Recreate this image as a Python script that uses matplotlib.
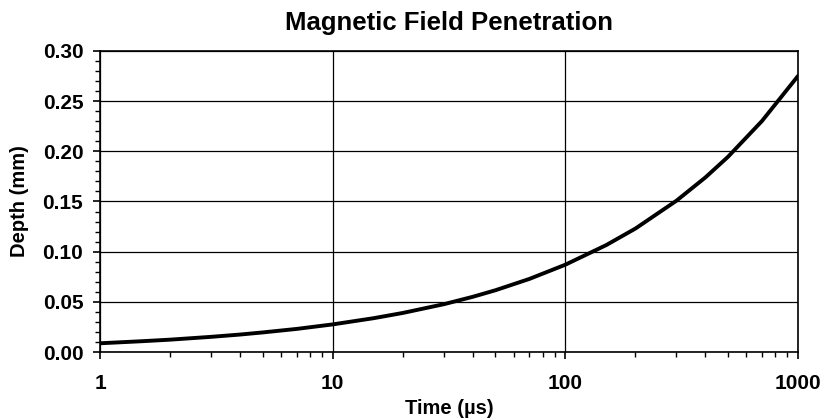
import matplotlib
matplotlib.use("Agg")
import matplotlib.pyplot as plt
from matplotlib.ticker import MultipleLocator, LogLocator, NullFormatter, FixedLocator, FixedFormatter

time_us = [1, 1.5, 2, 3, 4, 5, 7, 10, 15, 20, 30, 40, 50, 70, 100, 150, 200,
           300, 400, 500, 700, 1000]
depth_mm = [0.0087, 0.0107, 0.0123, 0.0151, 0.0174, 0.0195, 0.0230, 0.0275,
            0.0337, 0.0389, 0.0476, 0.0550, 0.0615, 0.0728, 0.0870, 0.1066,
            0.1230, 0.1507, 0.1740, 0.1945, 0.2302, 0.2751]
x_ticks = [1, 10, 100, 1000]
x_labels = ["1", "10", "100", "1000"]
y_ticks = [0.00, 0.05, 0.10, 0.15, 0.20, 0.25, 0.30]

plt.rcParams['font.family'] = ['Liberation Sans', 'DejaVu Sans']

fig = plt.figure(figsize=(8.25, 4.19), dpi=100)
ax = fig.add_axes([100/825, 1-352/419, (798-100)/825, (352-51)/419])

ax.plot(time_us, depth_mm, color='black', lw=2.8, solid_capstyle='round',
        solid_joinstyle='round')
ax.set_xscale('log')
ax.set_xlim(1, 1000)
ax.set_ylim(0, 0.30)

ax.xaxis.set_major_locator(FixedLocator(x_ticks))
ax.xaxis.set_major_formatter(FixedFormatter(x_labels))
ax.xaxis.set_minor_locator(LogLocator(base=10, subs=range(2, 10)))
ax.xaxis.set_minor_formatter(NullFormatter())
ax.set_yticks(y_ticks)
ax.set_yticklabels([f"{v:.2f}" for v in y_ticks])
ax.yaxis.set_minor_locator(MultipleLocator(0.01))

ax.grid(True, which='major', color='black', lw=0.9)
for s in ax.spines.values():
    s.set_linewidth(1.2)
ax.tick_params(which='major', direction='out', length=5, width=1.2, labelsize=15)
ax.tick_params(axis='y', which='major', pad=7)
ax.tick_params(axis='x', which='major', pad=11)
ax.tick_params(which='minor', direction='out', length=3.5, width=1)
for lab in ax.get_xticklabels() + ax.get_yticklabels():
    lab.set_fontweight('bold')

ax.set_title("Magnetic Field Penetration", fontsize=18.5, fontweight='bold', pad=15)
ax.set_xlabel("Time (µs)", fontsize=14.5, fontweight='bold', labelpad=4)
ax.set_ylabel("Depth (mm)", fontsize=14.5, fontweight='bold', labelpad=10)

fig.savefig("out.png", dpi=100)
